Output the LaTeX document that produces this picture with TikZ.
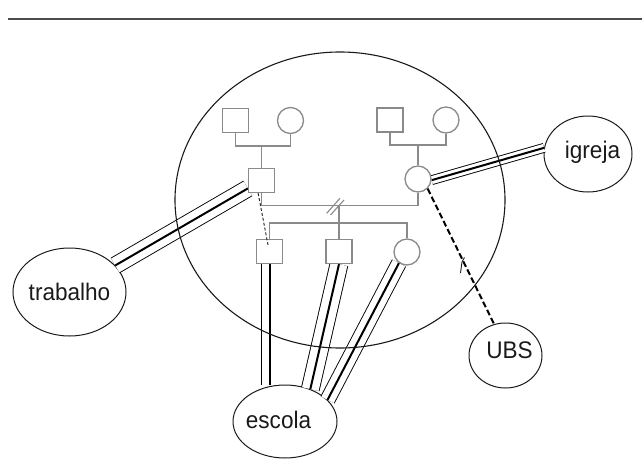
\documentclass[tikz,border=0pt]{standalone}
\usepackage{fontspec}
\setmainfont{Liberation Sans}[FakeStretch=0.94]
\usetikzlibrary{shapes.geometric,calc}
\definecolor{genogray}{HTML}{8A8A8A}
\definecolor{ink}{HTML}{1A1A1A}
\begin{document}
\begin{tikzpicture}[x=1pt,y=-1pt,
  gsq/.style={draw=genogray, line width=1.3pt, fill=white, minimum width=26pt, minimum height=24pt, inner sep=0pt},
  gci/.style={circle, draw=genogray, line width=1.3pt, fill=white, minimum size=26pt, inner sep=0pt},
  geno/.style={draw=genogray, line width=1.3pt},
  place/.style={ellipse, draw=ink, line width=1pt, inner sep=0pt},
  lbl/.style={font=\fontsize{24pt}{28pt}\selectfont, text=ink, inner sep=0pt},
  strongtie/.style={draw=black, line width=2pt, preaction={draw=black, line width=0.9pt, double=white, double distance=#1}},
  weaktie/.style={draw=black, line width=2pt, dash pattern=on 6pt off 3pt},
  finedash/.style={draw=ink, line width=0.9pt, dash pattern=on 3pt off 2pt}]
\useasboundingbox (0,0) rectangle (642,471);

% top rule
\draw[draw=black!70, line width=1.2pt] (8,19) -- (642,19);

% places
\node[place, minimum width=113pt, minimum height=88pt] (trabalho) at (69.5,292) {};
\node[place, minimum width=104pt, minimum height=73pt] (escola) at (285,421.5) {};
\node[place, minimum width=88pt, minimum height=76pt] (igreja) at (588,154) {};
\node[place, minimum width=73pt, minimum height=65pt] (UBS) at (505.5,355.5) {};

% genogram node positions (coordinates first, nodes drawn later)
\coordinate (gp1) at (0,146);
\coordinate (gp2) at (0,145);
\coordinate (mlev) at (0,205.5);
\coordinate (slev) at (0,223);

% strong ties (drawn before the genogram nodes)
\path (261.5,180.5) coordinate (fpos) (418,179) coordinate (mpos)
      (269.5,251.5) coordinate (c1pos) (339,251.5) coordinate (c2pos) (407,252) coordinate (c3pos);
\node[gsq, draw=none, fill=none] (fghost) at (fpos) {};
\draw[strongtie=16pt] (fghost) -- (trabalho);
\node[gci, draw=none, fill=none] (mghost) at (mpos) {};
\draw[strongtie=8pt] (mghost.-5) -- (igreja.172);
\node[gsq, draw=none, fill=none] (c1ghost) at (c1pos) {};
\draw[strongtie=16pt] (c1ghost.south) -- (c1ghost.south |- escola.north);
\node[gsq, draw=none, fill=none] (c2ghost) at (c2pos) {};
\draw[strongtie=17pt] (c2ghost.south) -- (escola.52);
\node[gci, draw=none, fill=none] (c3ghost) at (c3pos) {};
\draw[strongtie=14pt] (c3ghost.234) -- (escola.27);

% genogram
\node[gsq] (gf1) at (235.5,120.5) {};
\node[gci] (gm1) at (290.5,120.5) {};
\node[gsq] (gf2) at (390,120) {};
\node[gci] (gm2) at (446,120) {};
\node[gsq] (father) at (fpos) {};
\node[gci] (mother) at (mpos) {};
\node[gsq] (c1) at (c1pos) {};
\node[gsq] (c2) at (c2pos) {};
\node[gci] (c3) at (c3pos) {};

\draw[geno] (gf1.south) |- (gm1.south |- gp1) -- (gm1.south);
\draw[geno] (father.north) -- (father.north |- gp1);
\draw[geno] (gf2.south) |- (gm2.south |- gp2) -- (gm2.south);
\draw[geno] (mother.north) -- (mother.north |- gp2);
\draw[geno] (father.south) |- (mother.south |- mlev) -- (mother.south);
\draw[geno] (c2.north) -- (c2.north |- mlev);
\draw[geno] (c1.north) |- (c3.north |- slev) -- (c3.north);
% divorce marks
\draw[geno, line width=1.1pt] (326.7,213.3) -- (340,198.3);
\draw[geno, line width=1.1pt] (330.5,215) -- (344,200);

% weaker ties
\draw[weaktie] (mother.-45) -- (UBS.110);
\draw[finedash] (father.-105) -- ($(c1.north)+(-1.5,6)$);
\draw[draw=ink, line width=0.9pt] (460.5,273) -- (462,262) -- (464.5,257.5);

% family boundary
\node[ellipse, draw=ink, line width=1.1pt, minimum width=330pt, minimum height=296pt, inner sep=0pt] (familia) at (340,200) {};

% labels
\node[lbl] (trabalhoT) at (69.5,292) {trabalho};
\node[lbl] (escolaT) at (278.5,420) {escola};
\node[lbl] (igrejaT) at (592.5,152) {igreja};
\node[lbl] (UBST) at (509.5,350) {UBS};
\end{tikzpicture}
\end{document}
